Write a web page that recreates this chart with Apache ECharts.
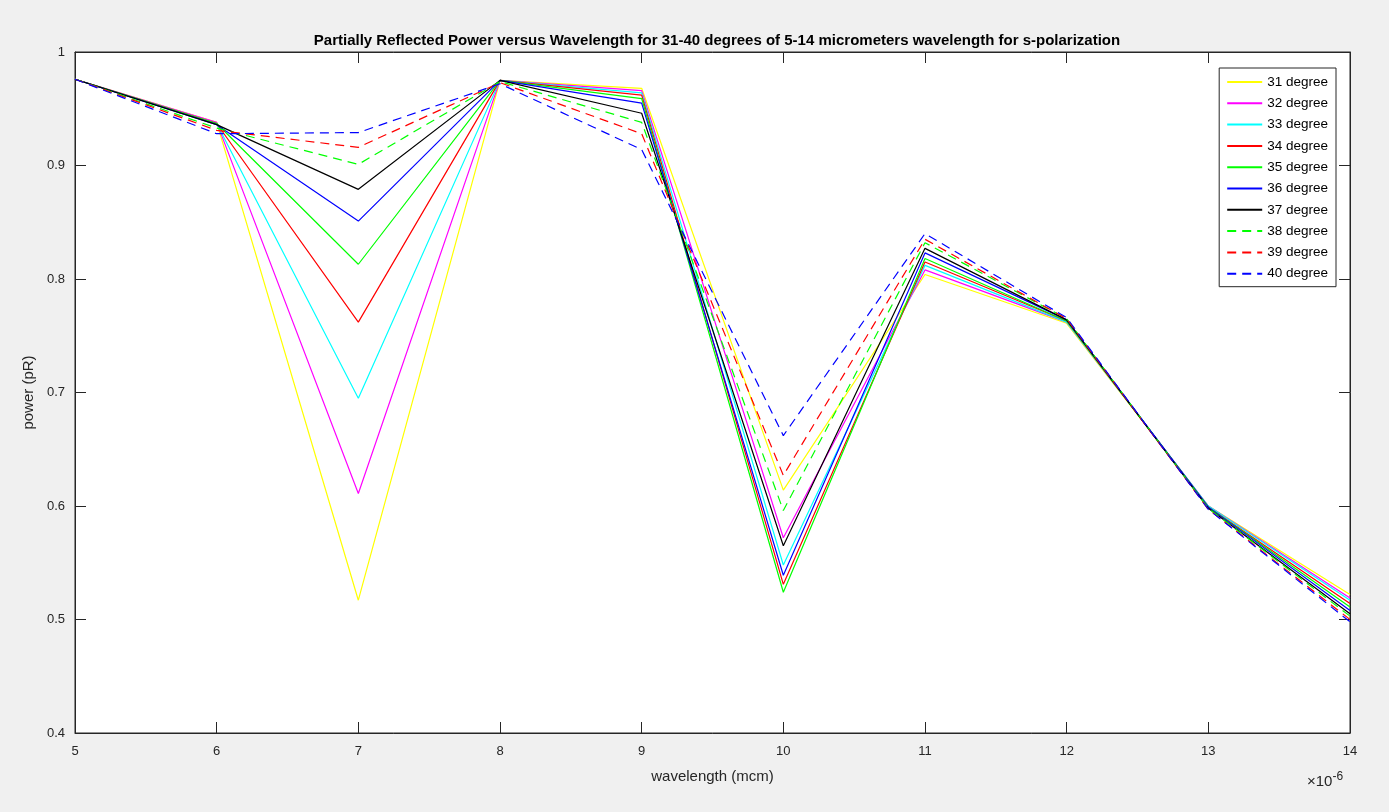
<!DOCTYPE html>
<html><head><meta charset="utf-8">
<script src="https://cdn.jsdelivr.net/npm/echarts@6/dist/echarts.min.js"></script>
<style>html,body{margin:0;padding:0;background:#f0f0f0}#c{width:1389px;height:812px}</style>
</head><body><div id="c"></div>
<script>
const wavelengths = [5, 6, 7, 8, 9, 10, 11, 12, 13, 14];
const seriesNames = ['31 degree','32 degree','33 degree','34 degree','35 degree','36 degree','37 degree','38 degree','39 degree','40 degree'];
const d31 = [0.976, 0.938, 0.517, 0.975, 0.968, 0.614, 0.804, 0.761, 0.600, 0.522];
const d32 = [0.976, 0.938, 0.611, 0.975, 0.966, 0.572, 0.808, 0.762, 0.600, 0.519];
const d33 = [0.976, 0.937, 0.695, 0.975, 0.964, 0.548, 0.812, 0.762, 0.600, 0.517];
const d34 = [0.976, 0.937, 0.762, 0.975, 0.962, 0.531, 0.815, 0.763, 0.599, 0.514];
const d35 = [0.976, 0.937, 0.813, 0.975, 0.959, 0.524, 0.818, 0.763, 0.599, 0.511];
const d36 = [0.976, 0.936, 0.851, 0.975, 0.955, 0.539, 0.823, 0.764, 0.599, 0.508];
const d37 = [0.976, 0.936, 0.879, 0.975, 0.946, 0.565, 0.827, 0.764, 0.598, 0.505];
const d38 = [0.976, 0.933, 0.901, 0.974, 0.938, 0.596, 0.832, 0.765, 0.598, 0.503];
const d39 = [0.976, 0.931, 0.916, 0.973, 0.928, 0.627, 0.835, 0.765, 0.597, 0.500];
const d40 = [0.976, 0.928, 0.929, 0.972, 0.914, 0.662, 0.840, 0.766, 0.597, 0.498];
const allData = [d31, d32, d33, d34, d35, d36, d37, d38, d39, d40];
const colors = ['#ffff00','#ff00ff','#00ffff','#ff0000','#00ff00','#0000ff','#000000','#00ff00','#ff0000','#0000ff'];
const dashed = [false,false,false,false,false,false,false,true,true,true];

const axisColor = '#262626';
const font = 'Liberation Sans, Arial, Helvetica, sans-serif';

const chart = echarts.init(document.getElementById('c'), null, {renderer:'canvas'});
const series = allData.map((arr, i) => ({
  name: seriesNames[i],
  type: 'line',
  data: arr.map((v, j) => [wavelengths[j], v]),
  symbol: 'none',
  animation: false,
  lineStyle: {color: colors[i], width: 1.2, type: dashed[i] ? [9, 6] : 'solid'},
  itemStyle: {color: colors[i]}
}));

const tick = {show: true, inside: true, length: 11, lineStyle: {color: axisColor}};

chart.setOption({
  backgroundColor: '#f0f0f0',
  animation: false,
  title: {
    text: 'Partially Reflected Power versus Wavelength for 31-40 degrees of 5-14 micrometers wavelength for s-polarization',
    left: 712, top: 28, textAlign: 'center',
    textStyle: {fontFamily: font, fontSize: 15, fontWeight: 'bold', color: '#000'}
  },
  grid: {left: 75, top: 52, right: 39, bottom: 79, show: true, backgroundColor: '#ffffff', borderColor: axisColor, borderWidth: 1},
  legend: {
    orient: 'vertical', right: 53, top: 68,
    backgroundColor: '#ffffff', borderColor: axisColor, borderWidth: 1,
    padding: [7, 8, 6, 7],
    itemWidth: 35, itemHeight: 14, itemGap: 7.3,
    itemStyle: {opacity: 0},
    textStyle: {fontFamily: font, fontSize: 13.5, color: '#000'},
    data: seriesNames
  },
  xAxis: [{
    type: 'value', min: 5, max: 14, interval: 1,
    name: 'wavelength (mcm)', nameLocation: 'middle', nameGap: 36,
    nameTextStyle: {fontFamily: font, fontSize: 15, color: axisColor},
    axisLine: {show: true, lineStyle: {color: axisColor}},
    axisTick: tick,
    axisLabel: {fontFamily: font, fontSize: 13, color: axisColor, margin: 12},
    splitLine: {show: false}
  }, {
    type: 'value', min: 5, max: 14, interval: 1, position: 'top',
    axisLine: {show: true, lineStyle: {color: axisColor}},
    axisTick: tick,
    axisLabel: {show: false}, splitLine: {show: false}
  }],
  yAxis: [{
    type: 'value', min: 0.4, max: 1, interval: 0.1,
    name: 'power (pR)', nameLocation: 'middle', nameGap: 33,
    nameTextStyle: {fontFamily: font, fontSize: 15, color: axisColor},
    axisLine: {show: true, lineStyle: {color: axisColor}},
    axisTick: tick,
    axisLabel: {fontFamily: font, fontSize: 13, color: axisColor, margin: 10,
      formatter: v => (Math.round(v*10)/10).toString()},
    splitLine: {show: false}
  }, {
    type: 'value', min: 0.4, max: 1, interval: 0.1, position: 'right',
    axisLine: {show: true, lineStyle: {color: axisColor}},
    axisTick: tick,
    axisLabel: {show: false}, splitLine: {show: false}
  }],
  graphic: [{
    type: 'text', left: 1307, top: 771,
    style: {
      text: '×10{s|-6}', fontFamily: font, fontSize: 15, fill: axisColor,
      rich: {s: {fontSize: 12, verticalAlign: 'top', padding: [0,0,9,0], fill: axisColor, fontFamily: font}}
    }
  }],
  series: series
});
</script></body></html>
